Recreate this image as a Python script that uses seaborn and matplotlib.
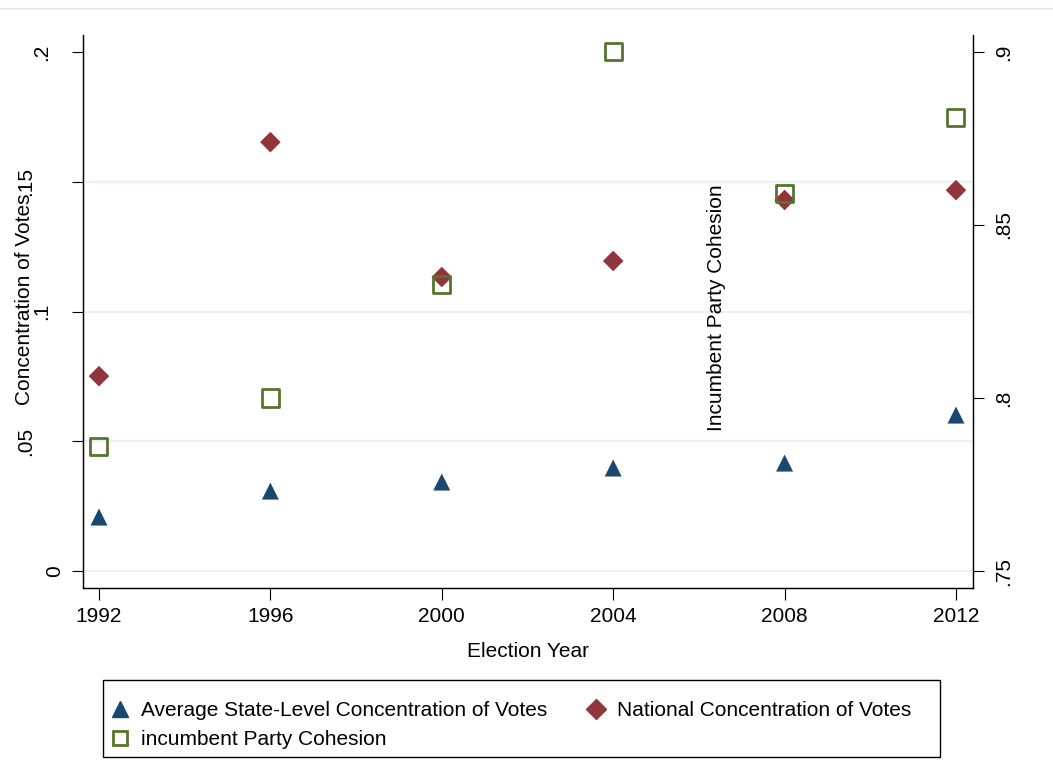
import matplotlib
matplotlib.use("Agg")
import matplotlib.pyplot as plt
import matplotlib.transforms as mtransforms
from matplotlib.lines import Line2D
from matplotlib.patches import Rectangle
import seaborn as sns
import pandas as pd

# ---- data ----
years = [1992, 1996, 2000, 2004, 2008, 2012]
avg_state = [0.0208, 0.0308, 0.0343, 0.0397, 0.0416, 0.0601]
national = [0.0751, 0.1653, 0.1133, 0.1195, 0.1430, 0.1468]
cohesion = [0.7861, 0.8000, 0.8329, 0.9000, 0.8592, 0.8812]

left_ticks = [0, 0.05, 0.1, 0.15, 0.2]
left_labels = ["0", ".05", ".1", ".15", ".2"]
right_ticks = [0.75, 0.8, 0.85, 0.9]
right_labels = [".75", ".8", ".85", ".9"]

lab_avg = "Average State-Level Concentration of Votes"
lab_nat = "National Concentration of Votes"
lab_coh = "incumbent Party Cohesion"

df = pd.DataFrame({"year": years, "avg": avg_state, "nat": national, "coh": cohesion})

NAVY = "#1a476f"
MAROON = "#90353b"
GREEN = "#55752f"
GRID = "#eaf2f3"

sns.set_theme(style="white")
plt.rcParams["font.family"] = ["Liberation Sans", "DejaVu Sans"]
plt.rcParams["text.color"] = "black"
plt.rcParams["axes.labelcolor"] = "black"
plt.rcParams["xtick.color"] = "black"
plt.rcParams["ytick.color"] = "black"
FS = 15

W, H = 1053, 773
fig = plt.figure(figsize=(W / 100, H / 100), dpi=100)
ax = fig.add_axes([83 / W, 1 - 588 / H, (973 - 83) / W, (588 - 35) / H])
ax2 = ax.twinx()

for v in left_ticks[:-1]:
    ax.axhline(v, color=GRID, lw=1.6, zorder=0)

sns.scatterplot(data=df, x="year", y="avg", ax=ax, marker="^", s=150,
                color=NAVY, edgecolor="none", zorder=3, legend=False)
sns.scatterplot(data=df, x="year", y="nat", ax=ax, marker="D", s=110,
                color=MAROON, edgecolor="none", zorder=3, legend=False)
sns.scatterplot(data=df, x="year", y="coh", ax=ax2, marker="s", s=150,
                facecolor="none", edgecolor=GREEN, linewidth=2, zorder=3, legend=False)

ax.set_xlim(1991.627, 2012.397)
ax.set_ylim(-0.00655, 0.2066)
ax2.set_ylim(0.74509, 0.90491)

ax.set_xticks(years)
ax.set_xticklabels([str(y) for y in years], fontsize=FS)
ax.set_yticks(left_ticks)
ax.set_yticklabels([""] * len(left_ticks))
ax2.set_yticks(right_ticks)
ax2.set_yticklabels(right_labels, fontsize=FS, rotation=90, va="center")

for a in (ax, ax2):
    a.spines["top"].set_visible(False)
    for side in ("left", "right", "bottom"):
        a.spines[side].set_color("black")
        a.spines[side].set_linewidth(0.9)
ax.tick_params(axis="x", direction="out", length=8.5, width=0.8, color="black", pad=5, bottom=True)
ax.tick_params(axis="y", direction="out", length=8, width=0.8, color="black", left=True)
ax2.tick_params(axis="y", direction="out", length=8, width=0.8, color="black", right=True, pad=7)

ax.set_xlabel("Election Year", fontsize=FS, labelpad=12)
ax.set_ylabel("")
ax2.set_ylabel("")

# left tick labels (rotated, Stata-like offsets)
trans = mtransforms.blended_transform_factory(fig.transFigure, ax.transData)
left_x = [55, 26, 42, 26, 42]
for v, lab, px in zip(left_ticks, left_labels, left_x):
    ax.text(px / W, v, lab, transform=trans, rotation=90, ha="center", va="center",
            fontsize=FS, clip_on=False)

fig.text(25 / W, 1 - 299 / H, "Concentration of Votes", rotation=90,
         ha="center", va="center", fontsize=FS)
fig.text(717 / W, 1 - 308 / H, "Incumbent Party Cohesion", rotation=90,
         ha="center", va="center", fontsize=FS)

# top faint line
fig.add_artist(Line2D([0, 1], [1 - 8 / H] * 2, transform=fig.transFigure,
                      color="#e6e6e6", lw=1))

# legend
h_avg = Line2D([], [], marker="^", linestyle="none", color=NAVY, markersize=11)
h_nat = Line2D([], [], marker="D", linestyle="none", color=MAROON, markersize=10)
h_coh = Line2D([], [], marker="s", linestyle="none", markerfacecolor="none",
               markeredgecolor=GREEN, markeredgewidth=2, markersize=10)
leg = fig.legend(handles=[h_avg, h_coh, h_nat], labels=[lab_avg, lab_coh, lab_nat],
                 ncol=2, loc="center left", bbox_to_anchor=(113.5 / W, 1 - 725 / H),
                 frameon=False, fontsize=FS, handlelength=0.6, handletextpad=0.7,
                 columnspacing=2.08, labelspacing=0.5, borderpad=0, borderaxespad=0)
fig.add_artist(Rectangle((103 / W, 1 - 757 / H), (940 - 103) / W, (757 - 680) / H,
                         transform=fig.transFigure, fill=False, edgecolor="black", lw=1))

fig.savefig("out.png", dpi=100, facecolor="white")
